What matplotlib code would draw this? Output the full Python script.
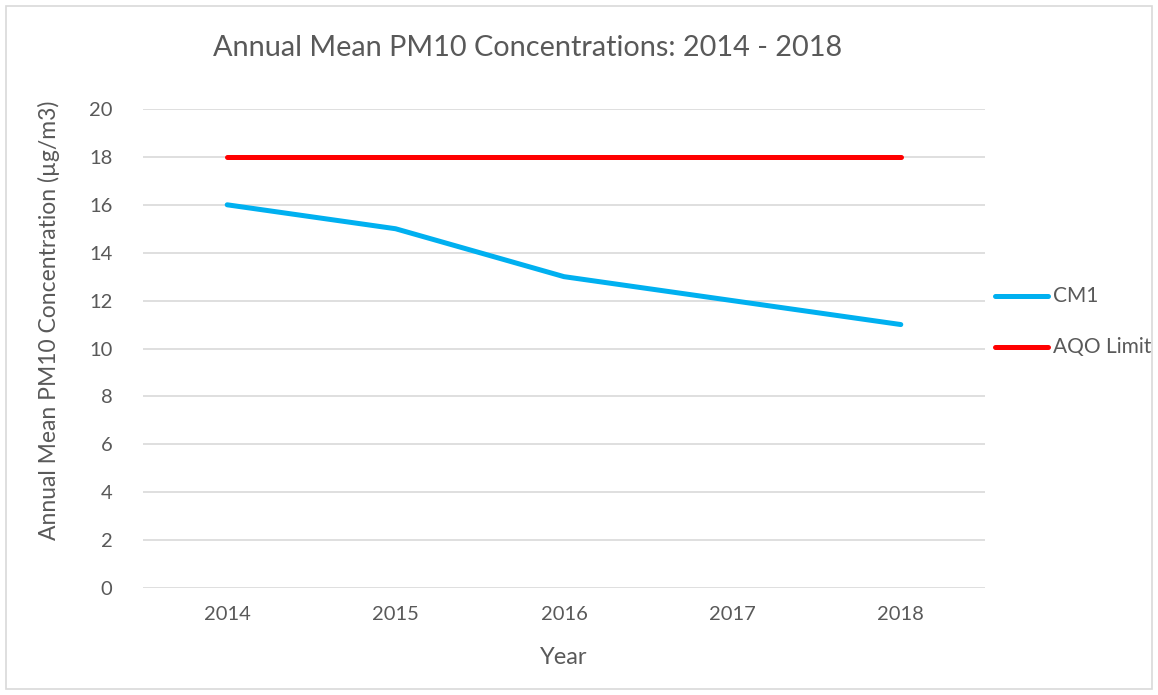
import matplotlib
matplotlib.use('Agg')
import matplotlib.pyplot as plt
import numpy as np
from matplotlib.patches import Rectangle

years = ['2014', '2015', '2016', '2017', '2018']
cm1 = [16, 15, 13, 12, 11]
aqo_limit = [18, 18, 18, 18, 18]

plt.rcParams['font.family'] = ['Lato', 'DejaVu Sans']
txt = '#595959'

W, H = 1158, 695
fig = plt.figure(figsize=(W / 100, H / 100), dpi=100)
ax = fig.add_axes([143 / W, 1 - 588 / H, (985 - 143) / W, (588 - 109) / H])

x = np.arange(len(years))
ax.plot(x, cm1, color='#00B0F0', lw=3.6, solid_capstyle='round',
        solid_joinstyle='round', zorder=3)
ax.plot(x, aqo_limit, color='#FF0000', lw=3.6, solid_capstyle='round', zorder=3)

ax.set_xlim(-0.5, len(years) - 0.5)
ax.set_ylim(0, 20)
ax.set_yticks(range(0, 21, 2))
ax.set_xticks(x)
ax.set_xticklabels(years)
ax.grid(axis='y', color='#D9D9D9', lw=1.2)
ax.set_axisbelow(True)
for s in ax.spines.values():
    s.set_visible(False)
ax.tick_params(length=0, labelsize=14.5, colors=txt)
ax.tick_params(axis='x', pad=13)
ax.tick_params(axis='y', pad=22)

fig.text(528 / W, 1 - 48 / H, 'Annual Mean PM10 Concentrations: 2014 - 2018',
         ha='center', va='center', fontsize=20.8, color=txt)
fig.text(564 / W, 1 - 657 / H, 'Year', ha='center', va='center',
         fontsize=17, color=txt)
fig.text(49 / W, 1 - 320 / H, 'Annual Mean PM10 Concentration (\u00b5g/m3)',
         ha='center', va='center', rotation=90, fontsize=16.5, color=txt)

# legend on the right
leg_items = [('CM1', '#00B0F0', 296), ('AQO Limit', '#FF0000', 347)]
for name, col, yy in leg_items:
    fig.add_artist(plt.Line2D([995 / W, 1048 / W], [1 - yy / H, 1 - yy / H],
                              color=col, lw=3.6, solid_capstyle='round'))
    fig.text(1053 / W, 1 - yy / H, name, ha='left', va='center',
             fontsize=15, color=txt)

fig.add_artist(Rectangle((6 / W, 6 / H), 1 - 12 / W, 1 - 12 / H,
                         transform=fig.transFigure, fill=False,
                         edgecolor='#D9D9D9', lw=1.2))

fig.savefig('out.png', dpi=100)
